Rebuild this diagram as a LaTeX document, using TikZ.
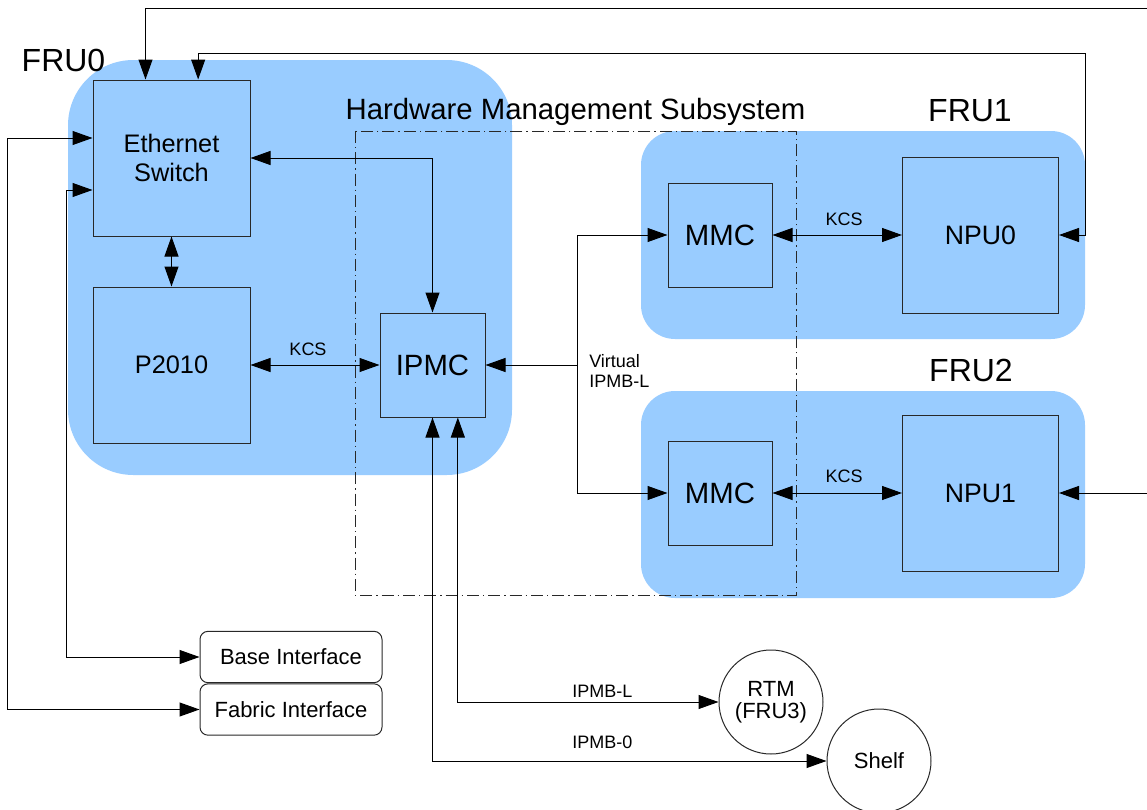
\documentclass[tikz,border=0pt]{standalone}
\usepackage{fontspec}
\setmainfont{Liberation Sans}
\usetikzlibrary{arrows.meta}

\definecolor{fruBlue}{RGB}{153,204,255}
\definecolor{boxLine}{RGB}{40,40,40}

\tikzset{
  blk/.style={draw=boxLine, fill=fruBlue, line width=0.75pt, inner sep=0pt, align=center},
  ifc/.style={draw=boxLine, fill=white, rounded corners=6pt, line width=0.75pt, inner sep=0pt,
    minimum width=136.5pt, minimum height=38.5pt, font=\fontsize{16.5}{19}\selectfont},
  ext/.style={circle, draw=boxLine, fill=white, line width=0.75pt, inner sep=0pt,
    minimum size=78pt, align=center, font=\fontsize{16.5}{16.5}\selectfont},
  lnk/.style={line width=0.75pt, -{Triangle[length=15pt,width=10.5pt]}},
  blnk/.style={line width=0.75pt, {Triangle[length=15pt,width=10.5pt]}-{Triangle[length=15pt,width=10.5pt]}},
  lbl/.style={inner sep=0pt, font=\fontsize{13.5}{15}\selectfont},
  frutxt/.style={inner sep=0pt, font=\fontsize{24}{26}\selectfont},
}

\begin{document}
\begin{tikzpicture}[x=0.75pt,y=0.75pt,yscale=-1,xscale=1]
%set diagram to the full 1147 x 810 frame
\path[fill=white] (0,0) rectangle (1147,810);
\useasboundingbox (0,0) rectangle (1147,810);
%Rounded Rect [FRU0]
\fill[fruBlue, rounded corners=49pt] (68,60) rectangle (512,475);
%Rounded Rect [FRU1]
\fill[fruBlue, rounded corners=25.5pt] (641,131) rectangle (1085,339);
%Rounded Rect [FRU2]
\fill[fruBlue, rounded corners=25.5pt] (641,391) rectangle (1085,598);
%Dash dot frame [Hardware Management Subsystem]
\draw[draw=boxLine, line width=0.75pt, dash pattern={on 9pt off 3pt on 1pt off 3pt}] (355,131) rectangle (796,595);

% Blocks
\node[blk, minimum width=117.75pt, minimum height=117pt, font=\fontsize{19}{21.75}\selectfont] (eth) at (171.5,158) {Ethernet\\Switch};
\node[blk, minimum width=117.75pt, minimum height=117pt, font=\fontsize{19}{21}\selectfont] (p2010) at (171.5,365) {P2010};
\node[blk, minimum width=78.75pt, minimum height=78pt, font=\fontsize{22}{24}\selectfont] (ipmc) at (432.5,365) {IPMC};
\node[blk, minimum width=78pt, minimum height=78pt, font=\fontsize{22}{24}\selectfont] (mmcA) at (720,235) {MMC};
\node[blk, minimum width=117pt, minimum height=117pt, font=\fontsize{20}{22}\selectfont] (npu0) at (980.5,235) {NPU0};
\node[blk, minimum width=78pt, minimum height=78pt, font=\fontsize{22}{24}\selectfont] (mmcB) at (720,493) {MMC};
\node[blk, minimum width=117pt, minimum height=117pt, font=\fontsize{20}{22}\selectfont] (npu1) at (980.5,493) {NPU1};
% Interfaces and externals
\node[ifc] (base) at (291,657) {Base Interface};
\node[ifc] (fabric) at (291,709.5) {Fabric Interface};
\node[ext] (rtm) at (771,702) {RTM\\(FRU3)};
\node[ext] (shelf) at (879,761) {Shelf};

% Free ends
\coordinate (topEdge) at (1147,8);
\coordinate (bendR) at (1085,53);
\coordinate (rgtEdge) at (1147,493);
\coordinate (vip) at (577,365);

% Connectors
\draw[lnk] (topEdge) -| ([xshift=-19.5pt]eth.north);
\draw[blnk] ([xshift=20pt]eth.north) |- (bendR) |- (npu0.east);
\draw[lnk] (rgtEdge) -- (npu1.east);
\draw[blnk] ([yshift=-15pt]eth.west) -- ++(-85,0) |- (fabric.west);
\draw[blnk] ([yshift=24pt]eth.west) -- ++(-26,0) |- (base.west);
\draw[blnk] (eth.east) -| (ipmc.north);
\draw[blnk] (eth.south) -- (p2010.north);
\draw[blnk] (p2010.east) -- (ipmc.west);
\draw[lnk] (vip) -- (ipmc.east);
\draw[lnk] (vip) |- (mmcA.west);
\draw[lnk] (vip) |- (mmcB.west);
\draw[blnk] (mmcA.east) -- (npu0.west);
\draw[blnk] (mmcB.east) -- (npu1.west);
\draw[blnk] ([xshift=19pt]ipmc.south) |- (rtm.west);
\draw[blnk] (ipmc.south) |- (shelf.west);

% Text Node
\node[frutxt] (fru0) at (63.5,60) {FRU0};
% Text Node
\node[frutxt] (fru1) at (970,111) {FRU1};
% Text Node
\node[frutxt] (fru2) at (971,370.5) {FRU2};
% Text Node
\node[inner sep=0pt, anchor=base, font=\fontsize{22}{24}\selectfont] (hms) at (575.5,119) {Hardware Management Subsystem};
% Text Node
\node[lbl, anchor=base] (kcsA) at (308,355) {KCS};
% Text Node
\node[lbl, anchor=base] (kcsB) at (844,225) {KCS};
% Text Node
\node[lbl, anchor=base] (kcsC) at (844,482) {KCS};
% Text Node
\node[lbl, anchor=base west, align=left] (virt) at (589,387) {Virtual\\IPMB-L};
% Text Node
\node[lbl, anchor=base west] (ipmbl) at (572,697) {IPMB-L};
% Text Node
\node[lbl, anchor=base west] (ipmb0) at (572,748) {IPMB-0};
\end{tikzpicture}
\end{document}
